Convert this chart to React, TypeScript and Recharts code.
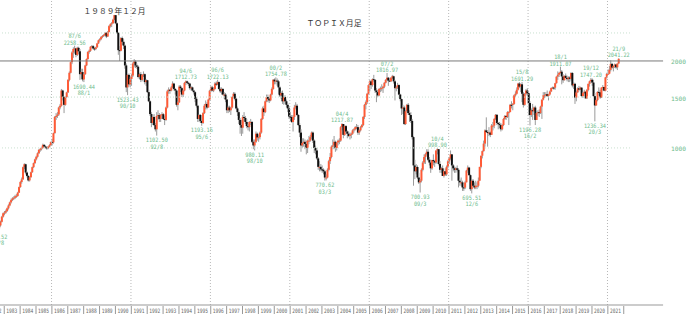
import { ComposedChart, Bar, XAxis, YAxis, ReferenceLine, ReferenceDot } from 'recharts'

// first candle is 1982/8, month index counted from 1982/1
const startYear = 1982
const startMonth = 8
const firstOpen = 537

const closes = [
  527, 539, 555, 578, 594, // 1982 (Aug-Dec)
  597, 605, 618, 632, 648, 660, 668, 672, 680, 682, 700, 732,
  762, 778, 858, 878, 822, 800, 772, 792, 824, 858, 886, 913,
  932, 958, 985, 990, 1002, 1025, 1012, 1004, 998, 1010, 1022, 1049,
  1045, 1125, 1280, 1290, 1305, 1380, 1400, 1580, 1500, 1410, 1500, 1556,
  1720, 1820, 1980, 2140, 2200, 2210, 2100, 2220, 2160, 1800, 1830, 1726,
  1800, 1930, 2030, 2150, 2170, 2240, 2250, 2210, 2200, 2230, 2300, 2357,
  2380, 2420, 2440, 2460, 2500, 2430, 2520, 2640, 2680, 2700, 2780, 2881,
  2700, 2500, 2180, 2170, 2400, 2330, 2260, 1930, 1620, 1790, 1660, 1734,
  1780, 1960, 1990, 1930, 1910, 1760, 1800, 1720, 1790, 1800, 1690, 1715,
  1560, 1450, 1310, 1220, 1280, 1200, 1160, 1290, 1300, 1260, 1300, 1308,
  1260, 1250, 1380, 1570, 1590, 1580, 1620, 1670, 1600, 1580, 1410, 1439,
  1630, 1610, 1530, 1580, 1680, 1700, 1680, 1670, 1610, 1620, 1580, 1559,
  1480, 1400, 1260, 1300, 1240, 1220, 1320, 1400, 1420, 1380, 1470, 1578,
  1620, 1580, 1600, 1670, 1660, 1690, 1600, 1570, 1600, 1530, 1530, 1471,
  1350, 1380, 1350, 1380, 1500, 1540, 1480, 1370, 1330, 1250, 1200, 1175,
  1280, 1270, 1230, 1190, 1180, 1230, 1230, 1050, 1020, 1050, 1120, 1087,
  1090, 1130, 1260, 1370, 1330, 1450, 1500, 1480, 1460, 1530, 1600, 1722,
  1700, 1710, 1700, 1620, 1520, 1550, 1450, 1500, 1450, 1410, 1370, 1284,
  1280, 1230, 1280, 1380, 1400, 1300, 1200, 1130, 1020, 1040, 1050, 1032,
  1000, 1060, 1060, 1090, 1130, 1060, 1000, 980, 920, 860, 860, 843,
  840, 830, 790, 790, 840, 900, 930, 1010, 1020, 1050, 1000, 1044,
  1060, 1060, 1180, 1210, 1110, 1190, 1140, 1120, 1100, 1110, 1120, 1150,
  1160, 1180, 1180, 1130, 1150, 1180, 1200, 1280, 1410, 1440, 1540, 1650,
  1700, 1650, 1730, 1720, 1580, 1560, 1520, 1600, 1610, 1610, 1630, 1681,
  1720, 1750, 1710, 1700, 1750, 1770, 1700, 1610, 1620, 1650, 1530, 1476,
  1370, 1380, 1210, 1340, 1410, 1320, 1300, 1240, 1090, 870, 830, 859,
  790, 760, 770, 840, 890, 930, 950, 970, 910, 890, 850, 908,
  900, 890, 980, 990, 880, 840, 850, 800, 830, 810, 860, 899,
  920, 950, 870, 850, 840, 850, 840, 770, 760, 760, 730, 729,
  760, 835, 855, 805, 720, 770, 740, 730, 740, 740, 770, 860,
  940, 975, 1035, 1150, 1135, 1130, 1130, 1110, 1195, 1195, 1260, 1302,
  1220, 1210, 1200, 1160, 1200, 1260, 1290, 1280, 1330, 1330, 1410, 1408,
  1420, 1520, 1540, 1590, 1670, 1630, 1660, 1540, 1410, 1540, 1580, 1547,
  1430, 1300, 1350, 1340, 1380, 1250, 1320, 1330, 1320, 1390, 1470, 1519,
  1521, 1535, 1513, 1531, 1568, 1612, 1618, 1617, 1675, 1765, 1792, 1818,
  1836, 1768, 1716, 1777, 1747, 1730, 1753, 1735, 1817, 1646, 1667, 1494,
  1557, 1608, 1592, 1617, 1512, 1551, 1565, 1485, 1588, 1667, 1700, 1721,
  1684, 1511, 1403, 1464, 1563, 1558, 1496, 1618, 1625, 1579, 1754, 1805,
  1808, 1864, 1954, 1898, 1923, 1944, 1901, 1960, 2035, // 2021 (Jan-Sep)
]

const highs = [
  540, 545, 560, 582, 598,
  605, 612, 622, 638, 652, 668, 675, 680, 688, 692, 705, 735,
  768, 790, 862, 885, 882, 830, 805, 795, 828, 862, 890, 918,
  940, 965, 990, 1000, 1010, 1035, 1030, 1020, 1012, 1015, 1030, 1052,
  1075, 1130, 1290, 1320, 1330, 1390, 1420, 1600, 1590, 1510, 1510, 1565,
  1730, 1840, 1990, 2160, 2230, 2259, 2220, 2240, 2240, 2200, 1880, 1880,
  1810, 1940, 2040, 2160, 2190, 2250, 2270, 2270, 2230, 2240, 2310, 2370,
  2400, 2440, 2460, 2480, 2520, 2520, 2540, 2660, 2700, 2730, 2800, 2887,
  2885, 2720, 2520, 2250, 2420, 2430, 2380, 2280, 1960, 1800, 1810, 1760,
  1800, 1980, 2030, 2010, 1960, 1930, 1820, 1830, 1800, 1840, 1810, 1730,
  1720, 1590, 1460, 1330, 1300, 1310, 1220, 1330, 1350, 1320, 1310, 1330,
  1320, 1290, 1390, 1590, 1620, 1600, 1640, 1700, 1680, 1610, 1590, 1450,
  1650, 1650, 1620, 1590, 1690, 1713, 1710, 1690, 1680, 1640, 1630, 1590,
  1570, 1500, 1410, 1310, 1310, 1260, 1330, 1420, 1460, 1440, 1480, 1590,
  1640, 1640, 1620, 1690, 1700, 1722, 1700, 1620, 1620, 1610, 1560, 1550,
  1480, 1400, 1400, 1390, 1510, 1560, 1560, 1490, 1390, 1350, 1270, 1250,
  1300, 1330, 1290, 1260, 1210, 1240, 1260, 1240, 1070, 1070, 1140, 1130,
  1110, 1140, 1270, 1390, 1400, 1460, 1530, 1530, 1510, 1540, 1620, 1730,
  1740, 1755, 1740, 1720, 1640, 1570, 1580, 1520, 1520, 1470, 1430, 1390,
  1330, 1300, 1300, 1410, 1440, 1420, 1310, 1220, 1160, 1080, 1080, 1070,
  1060, 1070, 1100, 1110, 1140, 1140, 1070, 1020, 1000, 930, 900, 880,
  870, 850, 840, 810, 850, 910, 960, 1020, 1070, 1100, 1060, 1050,
  1070, 1080, 1190, 1218, 1210, 1200, 1200, 1150, 1140, 1130, 1130, 1160,
  1170, 1190, 1210, 1200, 1160, 1190, 1210, 1290, 1420, 1460, 1550, 1660,
  1720, 1720, 1740, 1790, 1730, 1610, 1590, 1610, 1630, 1660, 1640, 1690,
  1730, 1817, 1760, 1740, 1760, 1790, 1780, 1720, 1640, 1680, 1660, 1540,
  1480, 1410, 1400, 1350, 1420, 1430, 1350, 1330, 1260, 1100, 910, 880,
  870, 820, 780, 850, 900, 950, 960, 990, 990, 930, 910, 910,
  950, 910, 980, 999, 990, 900, 860, 870, 830, 850, 870, 910,
  930, 980, 950, 880, 860, 860, 870, 850, 780, 790, 770, 750,
  770, 840, 870, 860, 810, 780, 780, 760, 770, 760, 790, 860,
  940, 980, 1060, 1160, 1276, 1150, 1180, 1140, 1210, 1230, 1270, 1310,
  1310, 1230, 1230, 1220, 1210, 1270, 1300, 1300, 1340, 1340, 1420, 1450,
  1430, 1530, 1570, 1620, 1680, 1690, 1670, 1691, 1560, 1550, 1600, 1610,
  1550, 1450, 1370, 1420, 1390, 1400, 1340, 1350, 1360, 1400, 1470, 1560,
  1560, 1560, 1580, 1540, 1580, 1620, 1630, 1630, 1680, 1770, 1840, 1830,
  1911, 1860, 1800, 1780, 1810, 1780, 1770, 1770, 1830, 1830, 1690, 1680,
  1580, 1620, 1640, 1630, 1620, 1560, 1590, 1570, 1600, 1670, 1710, 1747,
  1740, 1720, 1550, 1470, 1570, 1620, 1590, 1620, 1650, 1630, 1760, 1820,
  1870, 1920, 2010, 1970, 1930, 1960, 1950, 1960, 2041,
]

const lows = [
  512, 522, 534, 552, 574,
  585, 592, 600, 612, 628, 642, 655, 660, 665, 672, 678, 698,
  728, 752, 775, 845, 810, 790, 765, 765, 788, 820, 852, 880,
  905, 925, 952, 970, 980, 995, 1005, 995, 985, 990, 1005, 1018,
  1020, 1035, 1120, 1250, 1270, 1290, 1360, 1390, 1460, 1320, 1400, 1490,
  1550, 1700, 1810, 1950, 2050, 2120, 2060, 2080, 2110, 1720, 1730, 1700,
  1690, 1790, 1920, 2020, 2120, 2150, 2210, 2190, 2170, 2180, 2220, 2290,
  2330, 2360, 2400, 2420, 2450, 2400, 2420, 2510, 2610, 2620, 2690, 2770,
  2680, 2480, 2100, 2000, 2160, 2270, 2200, 1880, 1560, 1523, 1630, 1620,
  1640, 1760, 1900, 1890, 1880, 1740, 1730, 1690, 1700, 1760, 1660, 1640,
  1550, 1440, 1290, 1180, 1200, 1190, 1140, 1103, 1250, 1230, 1230, 1260,
  1250, 1200, 1240, 1370, 1540, 1540, 1570, 1610, 1580, 1530, 1390, 1350,
  1430, 1560, 1500, 1500, 1570, 1650, 1660, 1640, 1590, 1580, 1570, 1530,
  1440, 1380, 1230, 1230, 1220, 1193, 1210, 1310, 1360, 1360, 1380, 1460,
  1560, 1570, 1560, 1590, 1640, 1650, 1590, 1550, 1530, 1520, 1480, 1440,
  1320, 1320, 1330, 1300, 1370, 1490, 1460, 1360, 1290, 1210, 1120, 1100,
  1120, 1240, 1210, 1170, 1150, 1140, 1200, 1040, 990, 980, 1040, 1060,
  1050, 1070, 1120, 1250, 1290, 1320, 1440, 1440, 1430, 1450, 1520, 1590,
  1660, 1660, 1640, 1530, 1500, 1480, 1420, 1410, 1420, 1380, 1330, 1260,
  1240, 1220, 1140, 1250, 1360, 1290, 1190, 1090, 970, 1000, 1010, 990,
  950, 960, 1030, 1050, 1070, 1040, 960, 950, 910, 840, 830, 830,
  820, 810, 771, 772, 785, 830, 880, 920, 990, 990, 970, 980,
  1020, 1030, 1050, 1150, 1080, 1100, 1120, 1080, 1090, 1070, 1080, 1110,
  1130, 1150, 1160, 1110, 1110, 1140, 1170, 1190, 1260, 1360, 1420, 1530,
  1570, 1600, 1630, 1690, 1550, 1440, 1500, 1510, 1560, 1570, 1550, 1610,
  1670, 1700, 1640, 1690, 1690, 1730, 1670, 1460, 1570, 1600, 1520, 1450,
  1300, 1310, 1200, 1200, 1330, 1300, 1230, 1220, 1070, 740, 780, 810,
  780, 750, 701, 760, 830, 880, 880, 940, 900, 870, 820, 840,
  870, 860, 880, 950, 870, 820, 820, 800, 790, 800, 800, 850,
  880, 910, 770, 830, 820, 820, 830, 730, 740, 740, 710, 710,
  720, 760, 820, 800, 710, 696, 730, 720, 720, 720, 730, 770,
  850, 920, 970, 1010, 1130, 1010, 1100, 1090, 1110, 1150, 1170, 1250,
  1200, 1160, 1170, 1140, 1150, 1190, 1250, 1250, 1270, 1200, 1330, 1370,
  1350, 1410, 1500, 1530, 1580, 1610, 1560, 1440, 1380, 1400, 1520, 1520,
  1300, 1196, 1280, 1250, 1300, 1200, 1250, 1290, 1280, 1310, 1260, 1460,
  1490, 1500, 1500, 1460, 1520, 1560, 1600, 1590, 1590, 1670, 1720, 1760,
  1810, 1660, 1680, 1710, 1740, 1700, 1690, 1690, 1710, 1620, 1600, 1420,
  1450, 1550, 1570, 1590, 1500, 1490, 1540, 1480, 1480, 1570, 1630, 1680,
  1640, 1500, 1236, 1400, 1450, 1520, 1480, 1490, 1580, 1570, 1570, 1740,
  1790, 1800, 1840, 1880, 1840, 1890, 1880, 1860, 1950,
]

const yearLabels = [
  '1982', '1983', '1984', '1985', '1986', '1987', '1988', '1989', '1990', '1991',
  '1992', '1993', '1994', '1995', '1996', '1997', '1998', '1999', '2000', '2001',
  '2002', '2003', '2004', '2005', '2006', '2007', '2008', '2009', '2010', '2011',
  '2012', '2013', '2014', '2015', '2016', '2017', '2018', '2019', '2020', '2021',
]
const gridYears = [1986, 1991, 1996, 2001, 2006, 2011, 2016, 2021]
const priceTicks = [1000, 1500, 2000]
const dottedPrices = [1000, 1500, 2500]

// turning points marked on the chart
const notes = [
  { at: '82/8', price: 511.52, side: 'low' },
  { at: '87/6', price: 2258.56, side: 'high' },
  { at: '88/1', price: 1690.44, side: 'low' },
  { at: '90/10', price: 1523.43, side: 'low' },
  { at: '92/8', price: 1102.5, side: 'low' },
  { at: '94/6', price: 1712.73, side: 'high' },
  { at: '95/6', price: 1193.16, side: 'low' },
  { at: '96/6', price: 1722.13, side: 'high' },
  { at: '98/10', price: 980.11, side: 'low' },
  { at: '00/2', price: 1754.78, side: 'high' },
  { at: '03/3', price: 770.62, side: 'low' },
  { at: '04/4', price: 1217.87, side: 'high' },
  { at: '07/2', price: 1816.97, side: 'high' },
  { at: '09/3', price: 700.93, side: 'low' },
  { at: '10/4', price: 998.9, side: 'high' },
  { at: '12/6', price: 695.51, side: 'low' },
  { at: '15/8', price: 1691.29, side: 'high' },
  { at: '16/2', price: 1196.28, side: 'low' },
  { at: '18/1', price: 1911.07, side: 'high' },
  { at: '19/12', price: 1747.2, side: 'high' },
  { at: '20/3', price: 1236.34, side: 'low' },
  { at: '21/9', price: 2041.22, side: 'high' },
]
const topNote = { at: '89/12', price: 2886.58, text: '１９８９年１２月' }
const title = 'ＴＯＰＩＸ月足'

const baseIdx = (startYear - 1982) * 12 + (startMonth - 1)
const rows = closes.map((close, k) => {
  const open = k === 0 ? firstOpen : closes[k - 1]
  return { mid: baseIdx + k + 0.5, open, close, high: highs[k], low: lows[k], range: [lows[k], highs[k]] }
})

const monthMid = (s: string) => {
  const [yy, m] = s.split('/').map(Number)
  const year = yy < 50 ? 2000 + yy : 1900 + yy
  return (year - 1982) * 12 + (m - 1) + 0.5
}

const GREEN = '#6dbb8c'
const FONT = '"DejaVu Sans Mono", monospace'

function Candle(props: any) {
  const { x, y, width, height, payload } = props
  if (payload == null || y == null || isNaN(y)) return null
  const top = Math.min(y, y + height)
  const h = Math.abs(height)
  const lh = Math.log(payload.high)
  const ll = Math.log(payload.low)
  const py = (v: number) => top + (h * (lh - Math.log(v))) / (lh - ll || 1)
  const cx = x + width / 2
  const up = payload.close >= payload.open
  const bTop = py(Math.max(payload.open, payload.close))
  const bBot = py(Math.min(payload.open, payload.close))
  return (
    <g>
      <line x1={cx} x2={cx} y1={top} y2={top + h} stroke="#9a9a9a" strokeWidth={1} />
      <rect x={cx - 1} y={bTop} width={2} height={Math.max(1, bBot - bTop)} fill={up ? '#ff5a36' : '#111111'} />
    </g>
  )
}

function SmallText({ x, y, text, color = GREEN }: { x: number; y: number; text: string; color?: string }) {
  return (
    <text x={x} y={y} textAnchor="middle" dominantBaseline="central" fontSize={6} fill={color}
      fontFamily={FONT} textLength={text.length * 3.15} lengthAdjust="spacingAndGlyphs">
      {text}
    </text>
  )
}

function NoteShape(props: any) {
  const { cx, cy, note } = props
  const value = note.price.toFixed(2)
  if (note.side === 'high') {
    return (
      <g>
        <SmallText x={cx} y={cy - 10} text={note.at} />
        <SmallText x={cx} y={cy - 3.5} text={value} />
      </g>
    )
  }
  return (
    <g>
      <SmallText x={cx} y={cy + 4} text={value} />
      <SmallText x={cx} y={cy + 10.5} text={note.at} />
    </g>
  )
}

function TopShape(props: any) {
  const { cx, cy } = props
  return (
    <text x={cx} y={cy - 4} textAnchor="middle" dominantBaseline="central" fontSize={8} fill="#333"
      fontFamily='"Noto Sans CJK JP"' textLength={62} lengthAdjust="spacingAndGlyphs">
      {topNote.text}
    </text>
  )
}

function YearTick(props: any) {
  const { x, payload } = props
  const label = yearLabels[Math.floor(payload.value / 12)]
  return (
    <g>
      <text x={x} y={310} textAnchor="middle" dominantBaseline="central" fontSize={6} fill="#666"
        fontFamily={FONT} textLength={11} lengthAdjust="spacingAndGlyphs">
        {label}
      </text>
      <line x1={x + 8.3} x2={x + 8.3} y1={306} y2={314} stroke="#999" strokeWidth={1} />
    </g>
  )
}

function PriceTick(props: any) {
  const { y, payload } = props
  return (
    <text x={683} y={y + 1} textAnchor="start" dominantBaseline="central" fontSize={6} fill={GREEN}
      fontFamily={FONT} textLength={15} lengthAdjust="spacingAndGlyphs">
      {payload.value}
    </text>
  )
}

const yearTicks = yearLabels.map((_, i) => i * 12 + 6)

export default function App() {
  return (
    <div style={{ position: 'relative', width: 688, height: 317, overflow: 'hidden', background: '#fff' }}>
      <style>{'body{margin:0}'}</style>
      <div style={{ position: 'absolute', left: -12, top: 0 }}>
        <ComposedChart width={702} height={317} data={rows} margin={{ top: 0, right: 30, bottom: 0, left: 0 }}>
          <XAxis type="number" dataKey="mid" domain={[0, 485]} allowDataOverflow ticks={yearTicks} interval={0}
            tick={YearTick} tickLine={false} axisLine={false} height={12} />
          <YAxis orientation="right" scale="log" domain={[286, 3251]} allowDataOverflow ticks={priceTicks}
            interval={0} tick={PriceTick} tickLine={false} axisLine={false} width={30} />
          {gridYears.map(yr => (
            <ReferenceLine key={yr} x={(yr - 1982) * 12} stroke="#b8b8b8" strokeDasharray="1 2" />
          ))}
          {dottedPrices.map(p => (
            <ReferenceLine key={p} y={p} stroke="#c9e0cf" strokeDasharray="1 2" />
          ))}
          <ReferenceLine segment={[{ x: 0, y: 2000 }, { x: 510, y: 2000 }]} ifOverflow="visible" stroke="#7a7a7a" />
          <ReferenceLine segment={[{ x: 0, y: 286 }, { x: 510, y: 286 }]} ifOverflow="visible" stroke="#999" />
          <Bar dataKey="range" shape={Candle} barSize={2} isAnimationActive={false} />
          {notes.map(n => (
            <ReferenceDot key={n.at} x={monthMid(n.at)} y={n.price} r={1} ifOverflow="visible"
              shape={(p: any) => <NoteShape {...p} note={n} />} />
          ))}
          <ReferenceDot x={monthMid(topNote.at)} y={topNote.price} r={1} ifOverflow="visible" shape={TopShape} />
        </ComposedChart>
      </div>
      <svg width={688} height={317} style={{ position: 'absolute', left: 0, top: 0, pointerEvents: 'none' }}>
        <text x={334} y={22} textAnchor="middle" dominantBaseline="central" fontSize={8} fill="#333"
          fontFamily='"Noto Sans CJK JP"' textLength={55} lengthAdjust="spacingAndGlyphs">
          {title}
        </text>
      </svg>
    </div>
  )
}
